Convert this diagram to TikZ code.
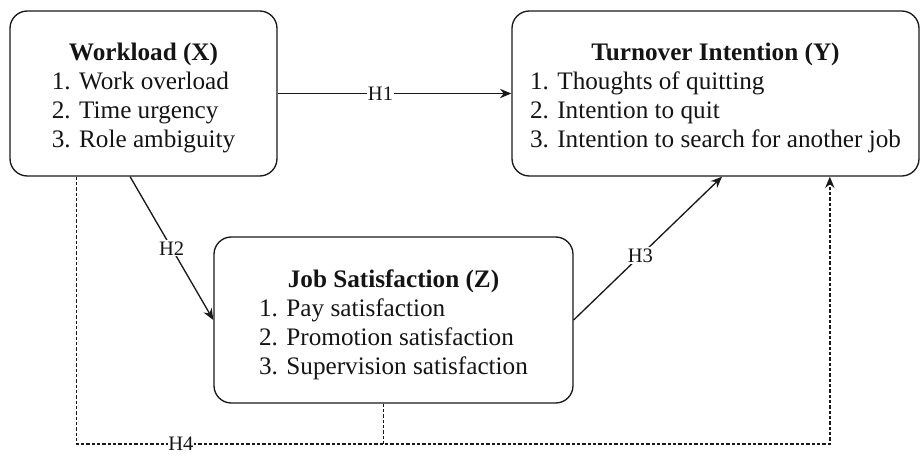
\documentclass[tikz,border=0pt]{standalone}
\usepackage{fontspec}
\setmainfont{Liberation Serif}
\usepackage{tikz}
\usetikzlibrary{arrows.meta, positioning, calc}
\definecolor{hyline}{RGB}{25,25,25}
\definecolor{hytext}{RGB}{20,20,20}

\begin{document}
\begin{tikzpicture}[x=0.75pt, y=-0.75pt,
  varbox/.style={draw=hyline, line width=1pt, rounded corners=13pt,
    inner sep=0pt, text=hytext, font=\fontsize{18.9}{21.8}\selectfont},
  hyp/.style={draw=hyline, line width=1pt, -{Stealth[length=8.5pt, width=7pt]}},
  hyplbl/.style={fill=white, inner sep=1pt, text=hytext,
    font=\fontsize{15.4}{17}\selectfont},
  dashhyp/.style={draw=hyline, line width=1pt, dash pattern=on 2.5pt off 1.5pt}]
% canvas
\useasboundingbox (0,0) rectangle (921,457);

% title + three indicators
\def\varlist#1#2#3#4{\begin{tabular}{@{}l@{}}
  \multicolumn{1}{@{}c@{}}{\rule{0pt}{22.8pt}\textbf{#1}}\\ #2\\ #3\\ #4\end{tabular}}

% ---- variables ----
\node[varbox, minimum width=200.25pt, minimum height=123.75pt] (wload) at (143.5,93.5)
  {\varlist{Workload (X)}{1. Work overload}{2. Time urgency}{3. Role ambiguity}};
\node[varbox, minimum width=305.25pt, minimum height=123.75pt] (turn) at (715.5,93.5)
  {\varlist{Turnover Intention (Y)}{1. Thoughts of quitting}{2. Intention to quit}
    {3. Intention to search for another job}};
\node[varbox, minimum width=269.25pt, minimum height=124.5pt] (jobsat) at (393.5,320)
  {\varlist{Job Satisfaction (Z)}{1. Pay satisfaction}{2. Promotion satisfaction}
    {3. Supervision satisfaction}};

% ---- direct paths ----
\draw[hyp] (wload.east) -- node[hyplbl, pos=0.44] {H1} (turn.west);
\draw[hyp] ($(wload.south west)!0.45!(wload.south east)$)
  -- node[hyplbl] {H2} (jobsat.west);
\draw[hyp] (jobsat.east)
  -- node[hyplbl, pos=0.45] {H3} ($(turn.south west)!0.516!(turn.south east)$);

% ---- mediated path (H4) ----
\coordinate (h4mid) at (383.5,444);
\draw[dashhyp, -{Stealth[length=8.5pt, width=7pt]}]
  ($(wload.south west)!0.25!(wload.south east)$) |- node[hyplbl, pos=0.67, inner sep=0.5pt] {H4}
  (h4mid) -| ($(turn.south west)!0.78!(turn.south east)$);
\draw[dashhyp] (jobsat.south -| h4mid) -- (h4mid);
\end{tikzpicture}
\end{document}
